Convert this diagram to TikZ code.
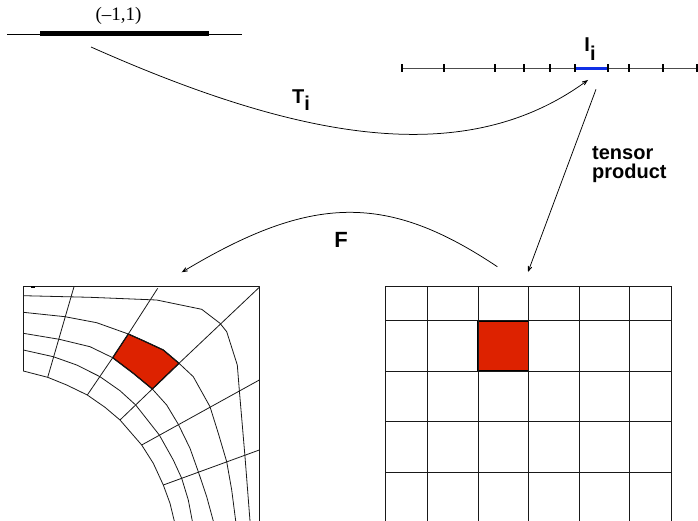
\documentclass[tikz,border=0pt]{standalone}
\usepackage{fontspec}
\setmainfont{Liberation Serif}
\setsansfont{Liberation Sans}
\usetikzlibrary{arrows.meta}
\definecolor{cellred}{RGB}{221,34,0}
\definecolor{segblue}{RGB}{16,48,230}
\tikzset{
	meshline/.style={line width=0.8pt, color=black!90, line join=round},
	mapline/.style={line width=0.75pt, -{Stealth[length=13pt,width=10pt,inset=10pt]}},
	mathlabel/.style={font=\fontsize{20}{18.5}\selectfont\sffamily\bfseries, inner sep=0pt, align=left},
}
\begin{document}
\begin{tikzpicture}[x=1pt,y=-1pt]
	\useasboundingbox (0,0) rectangle (698,521);
	% reference interval
	\draw[line width=0.8pt](7,34) -- (242,34);
	\draw[line width=5pt](40,34) -- (208.5,34);
	\node[font=\fontsize{19}{19}\selectfont, inner sep=0pt] (refint) at (118.5,16) {(--1,1)};
	% partition
	\draw[line width=0.8pt, color=black!70](402,68.3) -- (696.7,68.3);
	\draw[line width=2.6pt, color=segblue](575,68.3) -- (608.3,68.3);
	\draw[line width=1.7pt](402,64.3) -- (402,72.3);
	\draw[line width=1.7pt](444,64.3) -- (444,72.3);
	\draw[line width=1.7pt](494.7,64.3) -- (494.7,72.3);
	\draw[line width=1.7pt](524.3,64.3) -- (524.3,72.3);
	\draw[line width=1.7pt](549.7,64.3) -- (549.7,72.3);
	\draw[line width=1.7pt](575,64.3) -- (575,72.3);
	\draw[line width=1.7pt](608.3,64.3) -- (608.3,72.3);
	\draw[line width=1.7pt](629.3,64.3) -- (629.3,72.3);
	\draw[line width=1.7pt](663.3,64.3) -- (663.3,72.3);
	\draw[line width=1.7pt](696.7,64.3) -- (696.7,72.3);
	\node[mathlabel] (intlabel) at (590,49) {I\raisebox{-9pt}{i}};
	% maps between the pictures
	\coordinate (tstart) at (91,47);
	\coordinate (tend) at (588,80);
	\coordinate (pstart) at (596,89.3);
	\coordinate (pend) at (528,272);
	\coordinate (fstart) at (497.3,266.7);
	\coordinate (fend) at (181.7,272.3);
	\draw[mapline](tstart) .. controls (300,140) and (465,170) .. (tend);
	\draw[mapline](pstart) -- (pend);
	\draw[mapline](fstart) .. controls (387,193) and (312,194) .. (fend);
	\node[mathlabel] (tlabel) at (301,100) {T\raisebox{-7pt}{i}};
	\node[mathlabel, anchor=west] (plabel) at (592,164.5) {tensor\\product};
	\node[mathlabel, font=\fontsize{22}{22}\selectfont\sffamily\bfseries] (flabel) at (341,240) {F};
	% physical element
	\fill[color=cellred](128.3,334) -- (143.3,340.7) -- (163.3,350) -- (179,363.3) -- (152.3,389) -- (133.3,373.3) -- (112.7,357.7) -- cycle;
	\draw[line width=1.2pt, line join=round](128.3,334) -- (143.3,340.7) -- (163.3,350) -- (179,363.3) -- (152.3,389) -- (133.3,373.3) -- (112.7,357.7) -- cycle;
	\draw[meshline](23,371) -- (23,286.5) -- (259.5,286.5) -- (259.5,521);
	\draw[line width=1.4pt](31,287) -- (35,287);
	\draw[meshline](23.3,295.7) -- (90,297.3) -- (156.7,300) -- (201.7,309.3) -- (220,323.3) -- (226.7,331.7) -- (237.3,365) -- (239.3,390) -- (245,456.7) -- (250,521);
	\draw[meshline](23.3,312.3) -- (65,316.7) -- (96.7,322.7) -- (128.3,334) -- (143.3,340.7) -- (163.3,350) -- (179,363.3) -- (193.3,376.7) -- (210,406.7) -- (218.3,433.3) -- (226.7,461.7) -- (231.7,490) -- (235.7,521);
	\draw[meshline](23.3,333.3) -- (59.3,339.3) -- (90,346.7) -- (112.7,357.7) -- (133.3,373.3) -- (152.3,389) -- (166.7,405) -- (178.3,424.3) -- (190,448.3) -- (198.3,471.7) -- (206.7,496.7) -- (213.3,521);
	\draw[meshline](23.3,350) -- (53.3,356.7) -- (76.7,365) -- (100,376.7) -- (120,390.7) -- (135.7,405) -- (159.3,435) -- (173.3,460) -- (181.7,478.3) -- (188.3,500) -- (192.3,521);
	\draw[meshline](23.3,371) -- (47.7,377.3) -- (66.7,385) -- (87.3,395) -- (105,407.3) -- (120,420) -- (141.7,445) -- (153.3,463.3) -- (163.3,485) -- (170,503.3) -- (174.3,521);
	\draw[meshline](74,286.7) -- (47.7,377.3);
	\draw[meshline](157.7,288.3) -- (128.3,334) -- (112.7,357.7) -- (87.3,395);
	\draw[meshline](259.3,287.3) -- (179,363.3) -- (152.3,389) -- (120,420);
	\draw[meshline](259.3,380) -- (141.7,445);
	\draw[meshline](259.3,450) -- (163.3,485);
	% reference element
	\fill[color=cellred](478,321) rectangle (528.3,371);
	\draw[line width=1.2pt](478,321) rectangle (528.3,371);
	\draw[meshline](385.3,286.7) -- (385.3,521);
	\draw[meshline](427.3,286.7) -- (427.3,521);
	\draw[meshline](478,286.7) -- (478,521);
	\draw[meshline](528.7,286.7) -- (528.7,521);
	\draw[meshline](579.3,286.7) -- (579.3,521);
	\draw[meshline](629.7,286.7) -- (629.7,521);
	\draw[meshline](671.7,286.7) -- (671.7,521);
	\draw[meshline](385.3,286.7) -- (671.7,286.7);
	\draw[meshline](385.3,320.7) -- (671.7,320.7);
	\draw[meshline](385.3,371) -- (671.7,371);
	\draw[meshline](385.3,421.7) -- (671.7,421.7);
	\draw[meshline](385.3,472) -- (671.7,472);
\end{tikzpicture}
\end{document}
